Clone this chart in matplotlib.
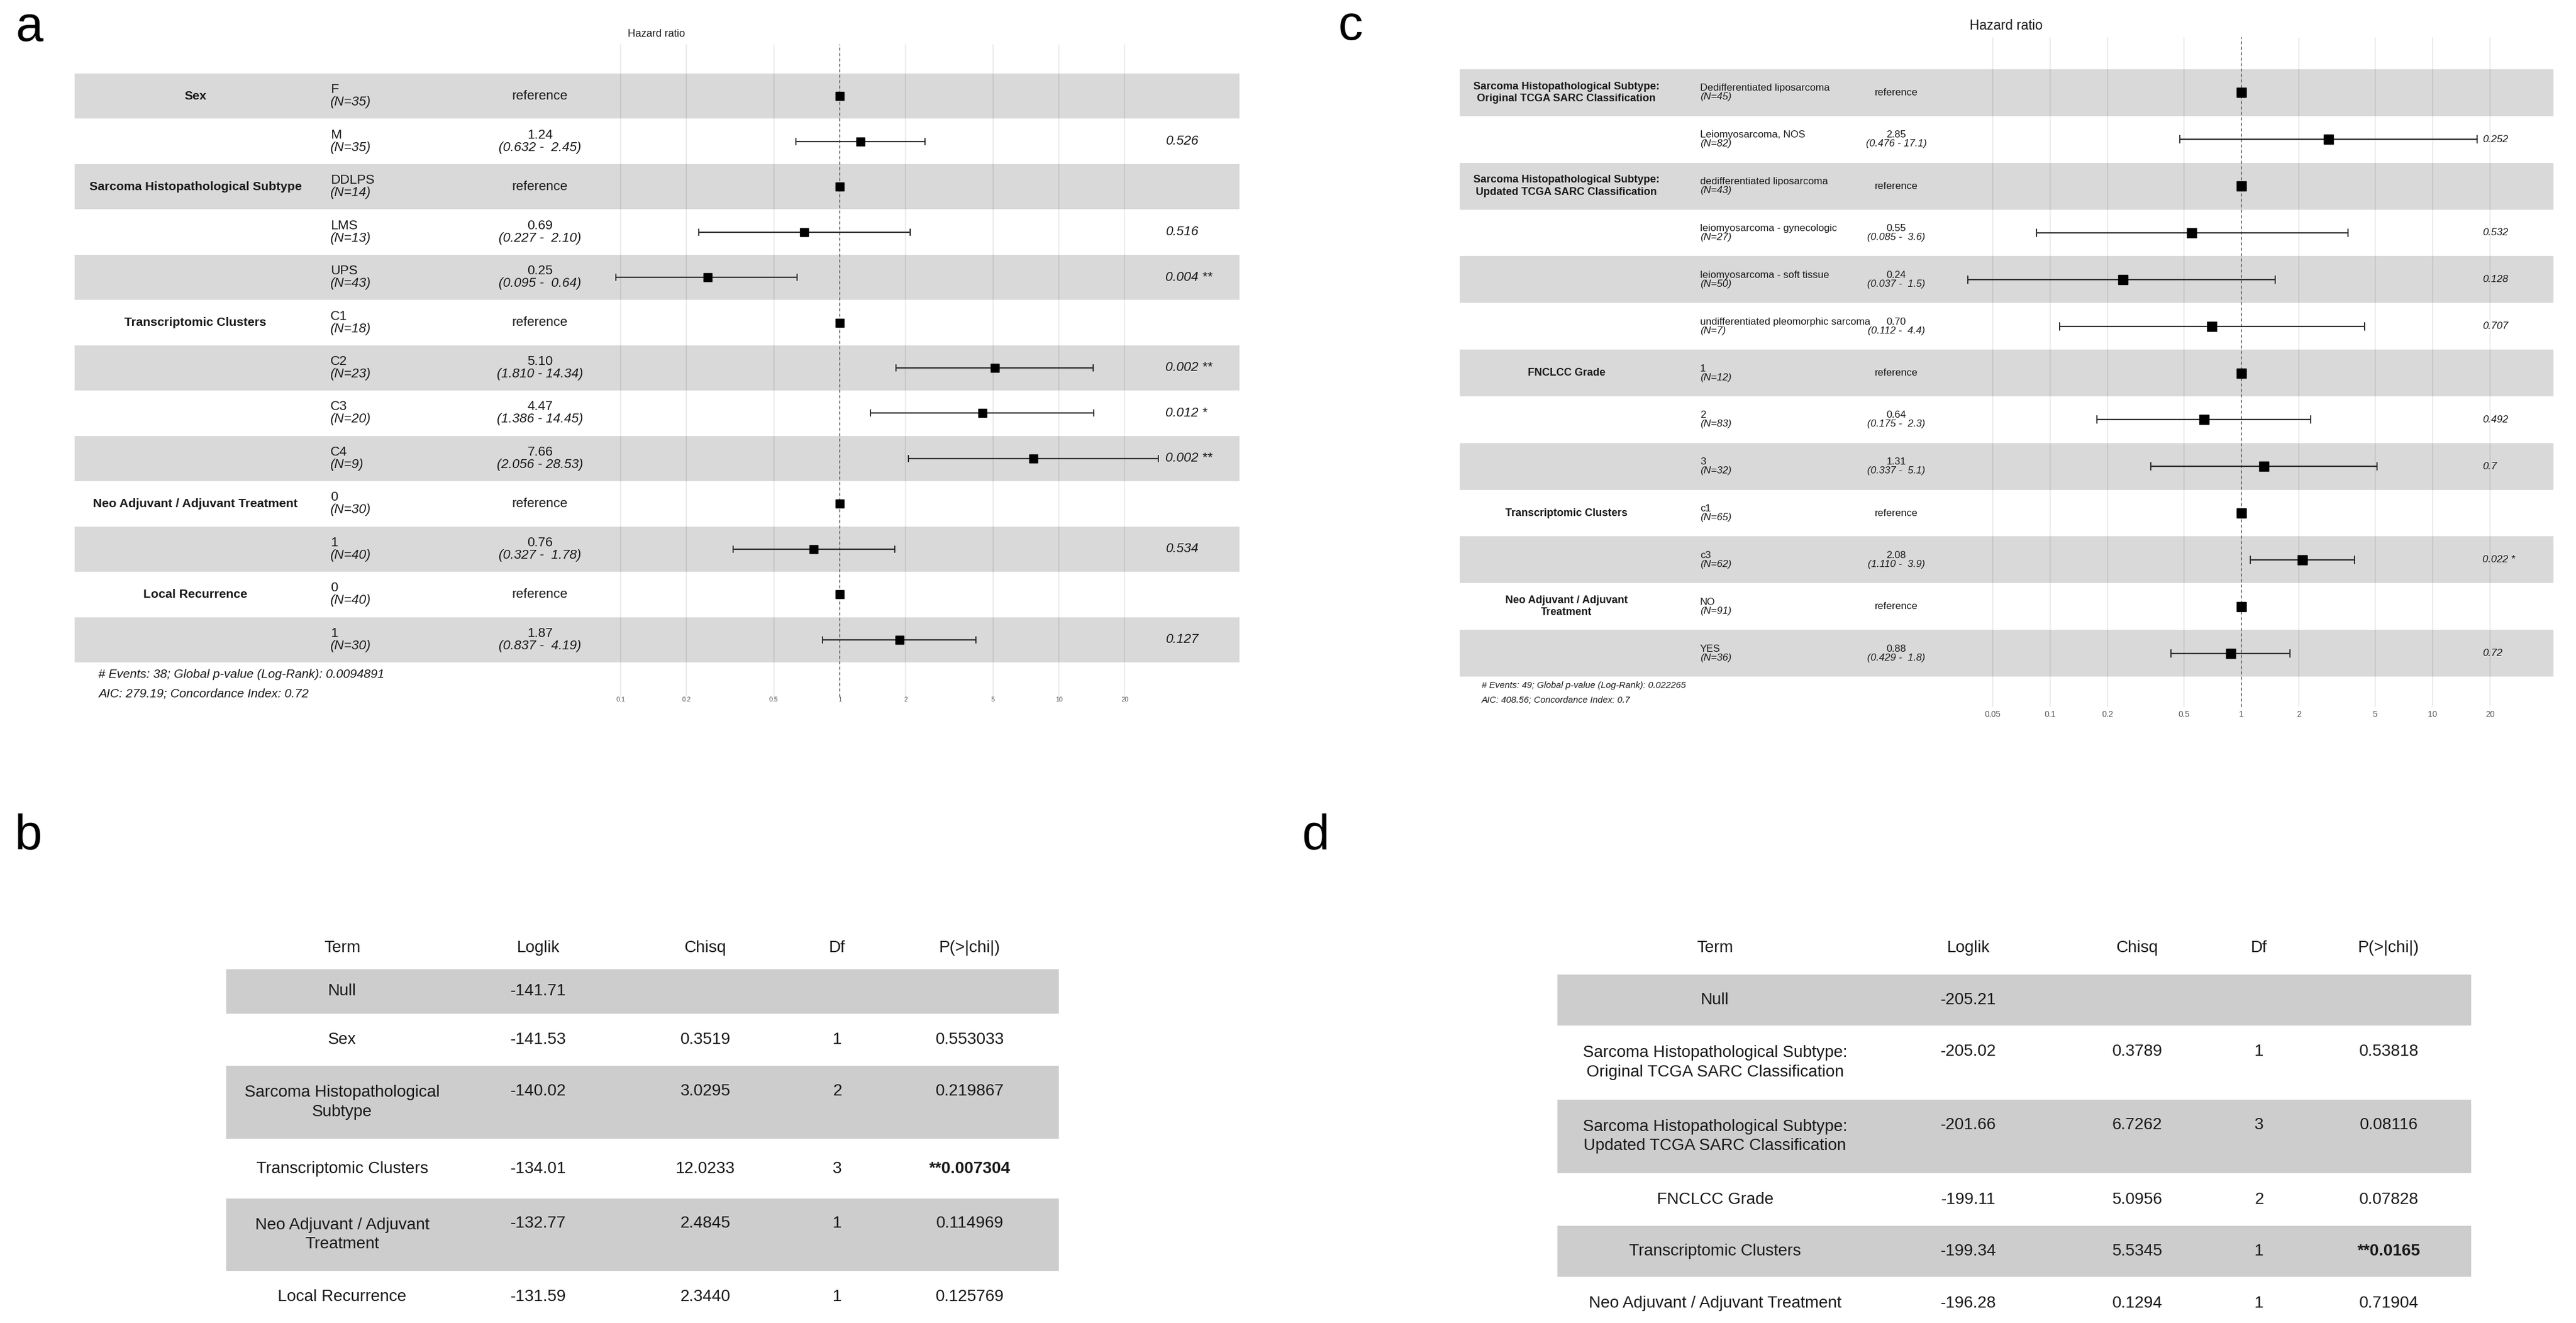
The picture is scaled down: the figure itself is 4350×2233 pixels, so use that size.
import matplotlib
matplotlib.use("Agg")
import matplotlib.pyplot as plt
import matplotlib.transforms as mtransforms
from matplotlib.ticker import NullLocator
from matplotlib import font_manager
import numpy as np

W, H = 4350, 2233
DPI = 100

names = {f.name for f in font_manager.fontManager.ttflist}
SANS = "Liberation Sans" if "Liberation Sans" in names else "DejaVu Sans"
if "Liberation Sans Narrow" in names:
    NARROW, NK = "Liberation Sans Narrow", 1.0
else:
    NARROW, NK = SANS, 0.82
plt.rcParams["font.family"] = [SANS, "DejaVu Sans"]

BAND = "#d9d9d9"
TBAND = "#cdcdcd"
INK = "#1a1a1a"

# ---- panel a : multivariable cox model ----
a_vars = ["Sex", "Sarcoma Histopathological Subtype", "Transcriptomic Clusters",
          "Neo Adjuvant / Adjuvant Treatment", "Local Recurrence"]
a_groups = [2, 3, 4, 2, 2]
a_levels = ["F", "M", "DDLPS", "LMS", "UPS", "C1", "C2", "C3", "C4", "0", "1", "0", "1"]
a_n = [35, 35, 14, 13, 43, 18, 23, 20, 9, 30, 40, 40, 30]
a_hr = [np.nan, 1.24, np.nan, 0.69, 0.25, np.nan, 5.10, 4.47, 7.66, np.nan, 0.76, np.nan, 1.87]
a_lo = [np.nan, 0.632, np.nan, 0.227, 0.095, np.nan, 1.810, 1.386, 2.056, np.nan, 0.327, np.nan, 0.837]
a_hi = [np.nan, 2.45, np.nan, 2.10, 0.64, np.nan, 14.34, 14.45, 28.53, np.nan, 1.78, np.nan, 4.19]
a_p = ["", "0.526", "", "0.516", "0.004 **", "", "0.002 **", "0.012 *", "0.002 **",
       "", "0.534", "", "0.127"]
a_ticks = [0.1, 0.2, 0.5, 1, 2, 5, 10, 20]
a_notes = ["# Events: 38; Global p-value (Log-Rank): 0.0094891",
           "AIC: 279.19; Concordance Index: 0.72"]

# ---- panel c ----
c_vars = ["Sarcoma Histopathological Subtype:\nOriginal TCGA SARC Classification",
          "Sarcoma Histopathological Subtype:\nUpdated TCGA SARC Classification",
          "FNCLCC Grade", "Transcriptomic Clusters", "Neo Adjuvant / Adjuvant\nTreatment"]
c_groups = [2, 4, 3, 2, 2]
c_levels = ["Dedifferentiated liposarcoma", "Leiomyosarcoma, NOS",
            "dedifferentiated liposarcoma", "leiomyosarcoma - gynecologic",
            "leiomyosarcoma - soft tissue", "undifferentiated pleomorphic sarcoma",
            "1", "2", "3", "c1", "c3", "NO", "YES"]
c_n = [45, 82, 43, 27, 50, 7, 12, 83, 32, 65, 62, 91, 36]
c_hr = [np.nan, 2.85, np.nan, 0.55, 0.24, 0.70, np.nan, 0.64, 1.31, np.nan, 2.08, np.nan, 0.88]
c_lo = [np.nan, 0.476, np.nan, 0.085, 0.037, 0.112, np.nan, 0.175, 0.337, np.nan, 1.110, np.nan, 0.429]
c_hi = [np.nan, 17.1, np.nan, 3.6, 1.5, 4.4, np.nan, 2.3, 5.1, np.nan, 3.9, np.nan, 1.8]
c_p = ["", "0.252", "", "0.532", "0.128", "0.707", "", "0.492", "0.7", "", "0.022 *", "", "0.72"]
c_ticks = [0.05, 0.1, 0.2, 0.5, 1, 2, 5, 10, 20]
c_notes = ["# Events: 49; Global p-value (Log-Rank): 0.022265",
           "AIC: 408.56; Concordance Index: 0.7"]

# ---- panel b : anova table ----
b_terms = ["Null", "Sex", "Sarcoma Histopathological\nSubtype", "Transcriptomic Clusters",
           "Neo Adjuvant / Adjuvant\nTreatment", "Local Recurrence"]
b_loglik = ["-141.71", "-141.53", "-140.02", "-134.01", "-132.77", "-131.59"]
b_chisq = ["", "0.3519", "3.0295", "12.0233", "2.4845", "2.3440"]
b_df = ["", "1", "2", "3", "1", "1"]
b_p = ["", "0.553033", "0.219867", "**0.007304", "0.114969", "0.125769"]

# ---- panel d ----
d_terms = ["Null", "Sarcoma Histopathological Subtype:\nOriginal TCGA SARC Classification",
           "Sarcoma Histopathological Subtype:\nUpdated TCGA SARC Classification",
           "FNCLCC Grade", "Transcriptomic Clusters", "Neo Adjuvant / Adjuvant Treatment"]
d_loglik = ["-205.21", "-205.02", "-201.66", "-199.11", "-199.34", "-196.28"]
d_chisq = ["", "0.3789", "6.7262", "5.0956", "5.5345", "0.1294"]
d_df = ["", "1", "3", "2", "1", "1"]
d_p = ["", "0.53818", "0.08116", "0.07828", "**0.0165", "0.71904"]

table_head = ["Term", "Loglik", "Chisq", "Df", "P(>|chi|)"]

# layouts in output pixels
LA = dict(box=(126, 2093, 75, 1176), one=1418, dec=370, top=124, rh=76.46,
          var_x=330, lev_x=558, hr_x=912, p_x=1968, dy=10.5, vfs=18.4 if NK == 1 else 15,
          fs=16, pfs=16, ms=9.4, cap=4, note_x=166, note_y=(1139, 1171), nfs=15,
          tfs=8, pad=0, lab=(1108, 57), lfs=12.8, ci="({:.3f} - {:5.2f})")
LC = dict(box=(2465, 4312, 63, 1193), one=3785, dec=323, top=117, rh=78.85,
          var_x=2645, lev_x=2871, hr_x=3202, p_x=4192, dy=7.5, vfs=16 if NK == 1 else 13,
          fs=12.3, pfs=12.5, ms=11, cap=4.8, note_x=2502, note_y=(1157, 1182), nfs=11,
          tfs=10, pad=4, lab=(3388, 44), lfs=16.3, ci="({:.3f} - {:4.1f})")

TB = dict(x=(382, 1788), top=1636, heights=[75, 88, 123, 101, 122, 88], head_y=1600,
          cols=[578, 909, 1191, 1414, 1638], fs=20, ls=37)
TD = dict(x=(2630, 4173), top=1645, heights=[86, 125, 124, 89, 86, 90], head_y=1600,
          cols=[2896, 3324, 3609, 3815, 4034], fs=20, ls=37)

fig = plt.figure(figsize=(W / DPI, H / DPI), dpi=DPI)
fig.patch.set_facecolor("white")
base = fig.add_axes([0, 0, 1, 1])
base.set_xlim(0, W)
base.set_ylim(H, 0)
base.axis("off")


def forest(L, var_names, groups, levels, ns, hr, lo, hi, pvals, ticks, notes):
    x0, x1, y0, y1 = L["box"]
    ax = fig.add_axes([x0 / W, 1 - y1 / H, (x1 - x0) / W, (y1 - y0) / H])
    ax.set_facecolor("none")
    ax.set_xscale("log")
    ax.set_xlim(10 ** ((x0 - L["one"]) / L["dec"]), 10 ** ((x1 - L["one"]) / L["dec"]))
    ax.set_ylim((y1 - L["top"]) / L["rh"], (y0 - L["top"]) / L["rh"])
    for s in ax.spines.values():
        s.set_visible(False)
    n = len(levels)
    for i in range(0, n, 2):
        ax.axhspan(i, i + 1, color=BAND, lw=0, zorder=0.5)

    ax.set_xticks(ticks)
    ax.set_xticklabels([f"{t:g}" for t in ticks])
    ax.xaxis.set_minor_locator(NullLocator())
    ax.tick_params(axis="x", length=0, pad=L["pad"], labelsize=L["tfs"], labelcolor="#555555")
    ax.tick_params(axis="y", left=False, labelleft=False)
    ax.grid(axis="x", color="black", alpha=0.08, lw=1.5)
    ax.set_axisbelow("line")
    ax.axvline(1, color="#555555", lw=1.1, ls=(0, (3, 3)), zorder=1.8)

    hr = np.array(hr)
    lo = np.array(lo)
    hi = np.array(hi)
    y = np.arange(n) + 0.5
    ref = np.isnan(hr)
    ax.plot(np.ones(ref.sum()), y[ref], "s", color="black", ms=L["ms"], zorder=3)
    ax.errorbar(hr[~ref], y[~ref], xerr=[hr[~ref] - lo[~ref], hi[~ref] - hr[~ref]],
                fmt="s", color="black", ecolor="#2b2b2b", ms=L["ms"], capsize=L["cap"],
                elinewidth=1.6, capthick=1.4, zorder=3)

    tr = mtransforms.blended_transform_factory(fig.transFigure, ax.transData)
    d = L["dy"] / L["rh"]
    starts = np.cumsum([0] + groups[:-1])
    for g, s in zip(var_names, starts):
        ax.text(L["var_x"] / W, s + 0.5, g, transform=tr, ha="center", va="center",
                fontsize=L["vfs"], family=[NARROW, "DejaVu Sans"], fontweight="bold",
                color=INK, linespacing=1.25)
    for i in range(n):
        yc = y[i]
        ax.text(L["lev_x"] / W, yc - d, levels[i], transform=tr, ha="left", va="center",
                fontsize=L["fs"], color=INK)
        ax.text(L["lev_x"] / W, yc + d, f"(N={ns[i]})", transform=tr, ha="left",
                va="center", fontsize=L["fs"], style="italic", color=INK)
        if ref[i]:
            ax.text(L["hr_x"] / W, yc, "reference", transform=tr, ha="center",
                    va="center", fontsize=L["fs"], color=INK)
        else:
            ax.text(L["hr_x"] / W, yc - d, f"{hr[i]:.2f}", transform=tr, ha="center",
                    va="center", fontsize=L["fs"], color=INK)
            ax.text(L["hr_x"] / W, yc + d, L["ci"].format(lo[i], hi[i]), transform=tr,
                    ha="center", va="center", fontsize=L["fs"], style="italic", color=INK)
            ax.text(L["p_x"] / W, yc, pvals[i], transform=tr, ha="left", va="center",
                    fontsize=L["pfs"], style="italic", color=INK)
    for txt, ny in zip(notes, L["note_y"]):
        fig.text(L["note_x"] / W, 1 - ny / H, txt, ha="left", va="center",
                 fontsize=L["nfs"], style="italic", color=INK)
    fig.text(L["lab"][0] / W, 1 - L["lab"][1] / H, "Hazard ratio", ha="center",
             va="center", fontsize=L["lfs"], color=INK)
    return ax


def table(T, terms, loglik, chisq, df, pv):
    x0, x1 = T["x"]
    heights = np.array(T["heights"], dtype=float)
    tops = T["top"] + np.concatenate([[0], np.cumsum(heights)[:-1]])
    centers = tops + heights / 2
    grey = np.arange(len(terms)) % 2 == 0
    base.barh(centers[grey], x1 - x0, left=x0, height=heights[grey], color=TBAND, lw=0)
    fs = T["fs"]
    lsp = T["ls"] / (fs * DPI / 72)
    for cx, h in zip(T["cols"], table_head):
        base.text(cx, T["head_y"], h, ha="center", va="center", fontsize=fs, color=INK)
    for i, term in enumerate(terms):
        nl = term.count("\n") + 1
        ytop = centers[i] - (nl - 1) * T["ls"] / 2
        base.text(T["cols"][0], centers[i], term, ha="center", va="center", fontsize=fs,
                  linespacing=lsp, color=INK)
        for cx, v in zip(T["cols"][1:], [loglik[i], chisq[i], df[i], pv[i]]):
            base.text(cx, ytop, v, ha="center", va="center", fontsize=fs, color=INK,
                      fontweight="bold" if v.startswith("**") else "normal")


forest(LA, a_vars, a_groups, a_levels, a_n, a_hr, a_lo, a_hi, a_p, a_ticks, a_notes)
forest(LC, c_vars, c_groups, c_levels, c_n, c_hr, c_lo, c_hi, c_p, c_ticks, c_notes)
table(TB, b_terms, b_loglik, b_chisq, b_df, b_p)
table(TD, d_terms, d_loglik, d_chisq, d_df, d_p)

for lab, (px, py) in zip("abcd", [(50, 69), (48, 1434), (2280, 67), (2222, 1434)]):
    fig.text(px / W, 1 - py / H, lab, ha="center", va="baseline", fontsize=60, color="black")

fig.savefig("out.png", dpi=DPI, facecolor="white")
